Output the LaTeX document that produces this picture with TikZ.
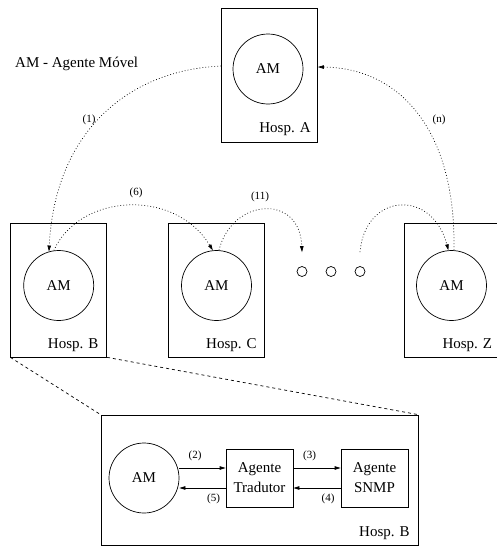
\documentclass[tikz,border=0pt]{standalone}
\usepackage{fontspec}
\setmainfont{Liberation Serif}
\usetikzlibrary{arrows.meta}
\newcommand{\bigfs}{\fontsize{15}{20}\selectfont}
\newcommand{\smallfs}{\fontsize{11}{13}\selectfont}
\tikzset{
  hosp/.style={draw, line width=0.7pt, minimum width=96pt, minimum height=134pt, inner sep=0pt},
  amc/.style={circle, draw, line width=0.7pt, minimum size=70pt, inner sep=0pt, font=\bigfs},
  dotc/.style={circle, draw, line width=0.7pt, minimum size=10pt, inner sep=0pt},
  agbox/.style={draw, line width=0.7pt, minimum width=67pt, minimum height=58pt, inner sep=0pt, align=center, font=\bigfs},
  hlabel/.style={anchor=base east, font=\bigfs, inner sep=0pt},
  nlabel/.style={font=\smallfs, inner sep=0pt},
  mig/.style={line width=0.7pt, dash pattern=on 0.8pt off 2.2pt, -{Triangle[length=6pt,width=3.5pt]}},
  flow/.style={line width=0.7pt, -{Triangle[length=6pt,width=3.5pt]}},
  zoomline/.style={line width=0.7pt, dash pattern=on 3pt off 3pt}
}
\begin{document}
\begin{tikzpicture}[x=1pt,y=-1pt]
\useasboundingbox (0,0) rectangle (496,546);

% legend
\node[anchor=base west, font=\bigfs, inner sep=0pt] (legend) at (15,67) {AM - Agente Móvel};

% hosts
\node[hosp] (A) at (269.5,75.5) {};
\node[amc] (amA) at (268,69) {AM};
\node[hlabel] (lA) at ([xshift=-7pt,yshift=10pt]A.south east) {Hosp. A};

\node[hosp] (B) at (58.7,290) {};
\node[amc] (amB) at (58.7,285.5) {AM};
\node[hlabel] (lB) at ([xshift=-8.5pt,yshift=9pt]B.south east) {Hosp. B};

\node[hosp] (C) at (216.5,290) {};
\node[amc] (amC) at (216.5,285.5) {AM};
\node[hlabel] (lC) at ([xshift=-8pt,yshift=9pt]C.south east) {Hosp. C};

\node[hosp, minimum width=100pt] (Z) at (454,290) {};
\node[amc] (amZ) at (451.5,285.5) {AM};
\node[hlabel] (lZ) at ([xshift=-12pt,yshift=9pt]Z.south east) {Hosp. Z};

% ellipsis
\node[dotc] (d1) at (302,271.5) {};
\node[dotc] (d2) at (331,271.5) {};
\node[dotc] (d3) at (360,271.5) {};
\coordinate (e1) at ([yshift=14pt]d1.north);
\coordinate (e3) at ([yshift=14pt]d3.north);

% migrations
\draw[mig] ([yshift=9.5pt]A.west) .. controls (130,70) and (55,130) .. (amB.106);
\node[nlabel] (l1) at (89,119.5) {(1)};

\draw[mig] (amB.98) .. controls (80,193) and (175,188) .. (amC.96);
\node[nlabel] (l6) at (136,193) {(6)};

\draw[mig] (amC.86) .. controls (232,198) and (300,193) .. (e1);
\node[nlabel] (l11) at (260,197) {(11)};

\draw[mig] (e3) .. controls (365,193) and (432,188) .. (amZ.95);

\draw[mig] (amZ.86) .. controls (456,130) and (400,68) .. ([yshift=8.5pt]A.east);
\node[nlabel] (ln) at (439,119.5) {(n)};

% zoom of Hosp. B
\node[draw, line width=0.7pt, minimum width=317pt, minimum height=130pt, inner sep=0pt] (BB) at (259.5,480) {};
\draw[zoomline] (B.south west) -- (BB.north west);
\draw[zoomline] (B.south east) -- (BB.north east);

\node[amc] (amBB) at (144,478) {AM};
\node[agbox] (tr) at (259.5,478) {Agente\\Tradutor};
\node[agbox] (sn) at (374.5,478) {Agente\\SNMP};
\node[hlabel] (lBB) at ([xshift=-8.5pt,yshift=9pt]BB.south east) {Hosp. B};

\draw[flow] ([yshift=10pt]amBB.east) -- ([yshift=10pt]tr.west);
\draw[flow] ([yshift=-10pt]tr.west) -- ([yshift=-10pt]amBB.east);
\draw[flow] ([yshift=10pt]tr.east) -- ([yshift=10pt]sn.west);
\draw[flow] ([yshift=-10pt]sn.west) -- ([yshift=-10pt]tr.east);

\node[nlabel] (l2) at (195,456) {(2)};
\node[nlabel] (l3) at (309.5,456) {(3)};
\node[nlabel] (l5) at (213.5,498.5) {(5)};
\node[nlabel] (l4) at (328,498.5) {(4)};
\end{tikzpicture}
\end{document}
